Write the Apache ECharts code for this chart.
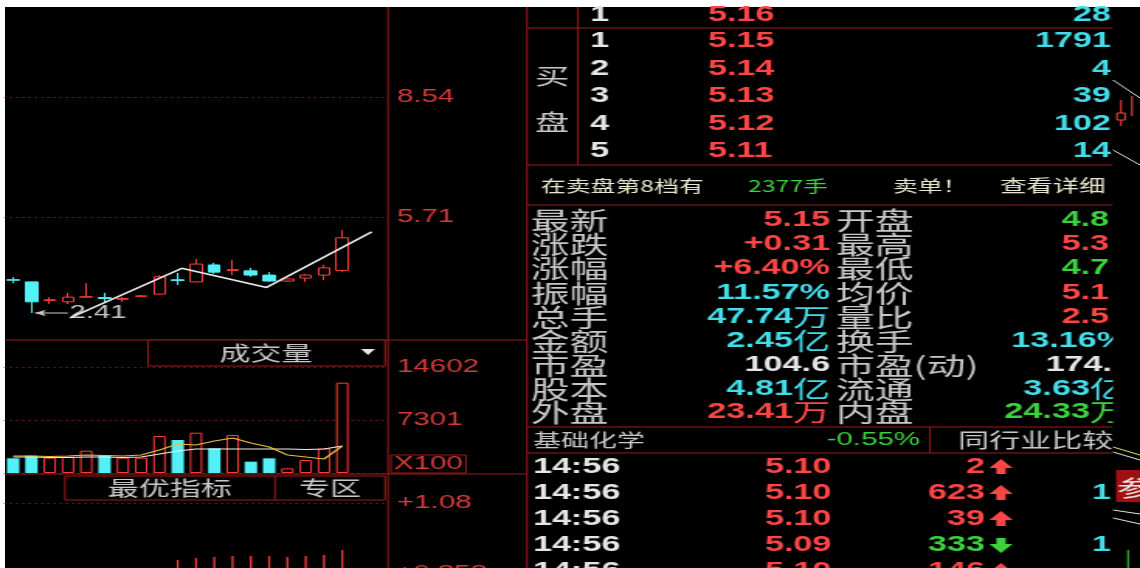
<!DOCTYPE html>
<html><head><meta charset="utf-8">
<script src="https://cdn.jsdelivr.net/npm/echarts@6/dist/echarts.min.js"></script>
<style>
html,body{margin:0;padding:0;background:#fff;overflow:hidden;width:1140px;height:568px;}
#bg{position:absolute;left:5px;top:7px;right:0;bottom:0;background:#000;}
#chart{position:absolute;left:0;top:0;width:735px;height:568px;transform:scaleX(1.55102);transform-origin:0 0;}
</style></head><body><div id="bg"></div><div id="chart"></div>
<script>
// ---------- data ----------
const categories = ['D1','D2','D3','D4','D5','D6','D7','D8','D9','D10','D11','D12','D13','D14','D15','D16','D17','D18','D19','',''];
// [open, close, low, high]
const candles = [
  [4.23,4.22,4.15,4.29],[4.18,3.71,3.446,4.18],[3.74,3.76,3.66,3.82],[3.71,3.82,3.66,3.92],
  [3.82,3.83,3.82,4.15],[3.81,3.79,3.68,3.92],[3.77,3.79,3.71,3.82],[3.84,3.85,3.83,3.87],
  [3.89,4.30,3.89,4.34],[4.23,4.21,4.11,4.39],[4.18,4.60,4.18,4.72],[4.58,4.41,4.37,4.63],
  [4.45,4.47,4.34,4.70],[4.44,4.34,4.30,4.51],[4.34,4.20,4.18,4.41],[4.20,4.25,4.18,4.25],
  [4.27,4.34,4.18,4.37],[4.34,4.51,4.22,4.58],[4.45,5.22,4.41,5.40]
];
const volumes = [2025,2383,2108,2245,3072,2480,2108,2108,5097,4546,5551,3402,5235,1561,2020,643,1791,3400,12440];
const volMaWhite = [2204,2204,2135,2135,2204,2204,2135,2204,2617,3030,3306,3306,3306,3306,3306,3306,3237,3306,3720];
const volMaYellow = [2342,2342,2273,2342,2480,2411,2342,2480,3168,3995,3857,4408,4821,4133,3582,2480,2204,1929,3720];
const trendLine = [[3.11,3.33],[9.22,4.50],[13.86,4.05],[19.61,5.36]];
const lowPoint = [1.195, 3.446];
const lowLabelEnd = [2.945, 3.446];
const lowLabel = '2.41';
const priceTicks = [5.71, 8.54];
const volMax = 14602, volStep = 7301;
const indTicks = [1.08];
const indCutLabel = '+0.858';
const indicatorBars = ['-','-','-','-','-','-','-','-','-',0.882,0.889,0.893,0.896,0.896,0.896,0.893,0.896,0.900,0.917];

const bookIdx = ['1','1','2','3','4','5'];
const bookPrice = ['5.16','5.15','5.14','5.13','5.12','5.11'];
const bookVol = ['28','1791','4','39','102','14'];
const statLabelsL = ['最新','涨跌','涨幅','振幅','总手','金额','市盈','股本','外盘'];
const statValuesL = [['5.15',''],['+0.31',''],['+6.40%',''],['11.57%',''],['47.74','万'],['2.45','亿'],['104.6',''],['4.81','亿'],['23.41','万']];
const statLabelsR = ['开盘','最高','最低','均价','量比','换手','市盈(动)','流通','内盘'];
const statValuesR = [['4.8',''],['5.3',''],['4.7',''],['5.1',''],['2.5',''],['13.16%',''],['174.',''],['3.63','亿'],['24.33','万']];
const tickTimes = ['14:56','14:56','14:56','14:56','14:56'];
const tickPrices = ['5.10','5.10','5.10','5.09','5.10'];
const tickVols = ['2','623','39','333','146'];
const tickDir = [1,1,1,-1,1];
const tickCount = ['','1','','1',''];

// ---------- layout helpers ----------
const S = 1140/735;
const X = v => v / S;
const RED = '#ff4646', CYAN = '#44dce8', GREEN = '#3cd23c', WHITE = '#e6e6e6', GRAY = '#c8c8c8', LINE = '#9c1c1c';
const statColL = [RED,RED,RED,CYAN,CYAN,CYAN,WHITE,CYAN,RED];
const statColR = [GREEN,RED,GREEN,RED,RED,CYAN,WHITE,CYAN,GREEN];
const tickColVol = tickDir.map(d => d > 0 ? RED : GREEN);
const DIG = 'bold 22px "Liberation Sans", Arial, sans-serif';
const CJK = '"Noto Sans CJK SC", sans-serif';

const G = [];
function line(x1,y1,x2,y2,color,z,dash){G.push({type:'line',z:z||5,shape:{x1:X(x1),y1:y1,x2:X(x2),y2:y2},style:{stroke:color||LINE,lineWidth:1,lineDash:dash||null}});}
function box(x1,y1,x2,y2){G.push({type:'rect',z:40,shape:{x:X(x1),y:y1,width:X(x2)-X(x1),height:y2-y1},style:{fill:'#000',stroke:LINE,lineWidth:1}});}
function txt(x,y,text,color,font,align,z){G.push({type:'text',z:z||60,x:X(x),y:y,style:{text:text,fill:color,font:font,textAlign:align||'left',align:align||'left',textVerticalAlign:'middle',verticalAlign:'middle'}});}
function rich(x,y,num,unit,color,align){
  G.push({type:'text',z:60,x:X(x),y:y,style:{text:'{n|'+num+'}'+(unit?'{u|'+unit+'}':''),textAlign:align,align:align,textVerticalAlign:'middle',verticalAlign:'middle',
    rich:{n:{fill:color,font:DIG},u:{fill:color,font:'24px '+CJK}}}});
}
function arrow(cx,cy,dir,color){
  const c = X(cx), h = 8*dir, s = 6*dir;
  G.push({type:'polygon',z:60,shape:{points:[[c-7.5,cy+1*dir],[c,cy-h],[c+7.5,cy+1*dir],[c+3,cy+1*dir],[c+3,cy+s+1*dir],[c-3,cy+s+1*dir],[c-3,cy+1*dir]]},style:{fill:color}});
}

// frame lines
line(388,7,388,568); line(527,7,527,568);
line(5,340,527,340); line(5,474,527,474);
line(527,28,1113,28); line(527,165,1113,165); line(527,205,1113,205); line(527,427,1113,427); line(527,453,1113,453);
line(578,7,578,165); line(930,427,930,453);
// boxes
box(148,340,385,366); txt(266,353,'成交量',GRAY,'20px '+CJK,'center');
G.push({type:'polygon',z:60,shape:{points:[[X(361),349],[X(375),349],[X(368),355]]},style:{fill:WHITE}});
box(391,455,466,473); txt(394,464,'X100','#d83a3a','19px "Liberation Sans", Arial','left');
box(65,476,385,500); line(275,476,275,500,LINE,41);
txt(170,488,'最优指标',GRAY,'20px '+CJK,'center'); txt(330,488,'专区',GRAY,'20px '+CJK,'center');
txt(396,573,indCutLabel,'#d83a3a','19px "Liberation Sans", Arial','left');

// order book
bookIdx.forEach((t,i)=>{ const y=[15,41,69,96,124,151][i];
  txt(590,y,t,WHITE,DIG); txt(708,y,bookPrice[i],RED,DIG); txt(1111,y,bookVol[i],CYAN,DIG,'right'); });
txt(535,76,'买',GRAY,'22px '+CJK); txt(535,122,'盘',GRAY,'22px '+CJK);
// info row
txt(541,186,'在卖盘第8档有','#e8e8d0','16px '+CJK); txt(748,186,'2377手',GREEN,'16px '+CJK);
txt(893,186,'卖单！','#e8e8d0','16px '+CJK); txt(1000,186,'查看详细','#e8e8d0','17px '+CJK);
// stats
const statY = [220,244,268,293,317,341,365,389,412];
statY.forEach((y,i)=>{
  txt(531,y,statLabelsL[i],GRAY,'25px '+CJK);
  rich(830,y,statValuesL[i][0],statValuesL[i][1],statColL[i],'right');
  txt(836,y,statLabelsR[i],GRAY,'25px '+CJK);
  const cut = (i===5||i===7||i===8);
  rich(cut?1127:(i===6?1112:1109),y,statValuesR[i][0],statValuesR[i][1],statColR[i],'right');
});
// industry row
txt(533,440,'基础化学',GRAY,'18px '+CJK); txt(920,440,'-0.55%',GREEN,'19px "Liberation Sans", Arial','right');
txt(958,440,'同行业比较',GRAY,'20px '+CJK);
// ticks
const tickY = [467,493,519,545,571];
tickY.forEach((y,i)=>{
  txt(533,y,tickTimes[i],WHITE,DIG); txt(765,y,tickPrices[i],RED,DIG);
  txt(985,y,tickVols[i],tickColVol[i],DIG,'right'); arrow(1001,y,tickDir[i],tickColVol[i]);
  if(tickCount[i]) txt(1111,y,tickCount[i],CYAN,DIG,'right');
});
// right strip mask + fragments of neighbouring window
G.push({type:'rect',z:70,shape:{x:X(1113),y:7,width:X(1140)-X(1113),height:561},style:{fill:'#000'}});
line(1113,80,1140,98,WHITE,80); line(1113,150,1140,165,WHITE,80);
line(1121,100,1121,126,RED,80); G.push({type:'rect',z:80,shape:{x:X(1117),y:113,width:X(8),height:7},style:{fill:'#000',stroke:RED}});
line(1132,96,1132,116,RED,80);
line(1113,447,1140,455,'#e8e060',80); line(1113,452,1140,460,WHITE,80);
G.push({type:'rect',z:80,shape:{x:X(1116),y:470,width:X(24),height:32},style:{fill:'#a01010'}});
txt(1117,488,'参',WHITE,'22px '+CJK,'left',85);
line(1113,510,1140,514,WHITE,80); line(1113,518,1140,524,WHITE,80); line(1128,550,1128,568,GREEN,80);

const axisLbl = {color:'#d83a3a',fontSize:19,fontFamily:'"Liberation Sans", Arial',margin:X(9)};
const dotted = {show:true,lineStyle:{color:'#a82a2a',type:[1,3],width:1}};
const hidX = (gi)=>({type:'category',gridIndex:gi,data:categories,boundaryGap:true,show:false});

const option = {
  backgroundColor:'transparent',
  animation:false,
  grid:[
    {left:X(4),top:7,width:X(384),height:333},
    {left:X(4),top:367,width:X(384),height:106},
    {left:X(4),top:503,width:X(384),height:65}
  ],
  xAxis:[hidX(0),hidX(1),{type:'value',gridIndex:0,min:-0.5,max:20.5,show:false},hidX(2)],
  yAxis:[
    {type:'value',gridIndex:0,position:'right',min:2.81,max:10.66,axisLine:{show:false},axisTick:{show:false,customValues:priceTicks},
     axisLabel:Object.assign({customValues:priceTicks,formatter:v=>v.toFixed(2)},axisLbl),splitLine:Object.assign({customValues:priceTicks},dotted)},
    {type:'value',gridIndex:1,position:'right',min:0,max:volMax,interval:volStep,axisLine:{show:false},axisTick:{show:false},
     axisLabel:Object.assign({formatter:v=>v===0?'':String(v)},axisLbl),splitLine:dotted},
    {type:'value',gridIndex:2,position:'right',min:0.8545,max:1.08,axisLine:{show:false},axisTick:{show:false,customValues:indTicks},
     axisLabel:Object.assign({customValues:indTicks,formatter:v=>'+'+String(v)},axisLbl),splitLine:Object.assign({customValues:indTicks},dotted)}
  ],
  series:[
    {type:'candlestick',xAxisIndex:0,yAxisIndex:0,data:candles,barWidth:'68%',
     itemStyle:{color:'#000',color0:'#54f0f8',borderColor:'#ff3c3c',borderColor0:'#54f0f8',borderWidth:1}},
    {type:'line',xAxisIndex:2,yAxisIndex:0,data:trendLine,symbol:'none',lineStyle:{color:'#ececec',width:1.6},z:5},
    {type:'line',xAxisIndex:2,yAxisIndex:0,symbol:'none',showSymbol:true,lineStyle:{color:GRAY,width:1.2},z:4,
     data:[{value:lowPoint,symbol:'arrow',symbolSize:[5,7],symbolRotate:90,itemStyle:{color:GRAY}},
           {value:lowLabelEnd,symbol:'circle',symbolSize:1,itemStyle:{color:GRAY},
            label:{show:true,position:'right',distance:1,formatter:lowLabel,color:GRAY,fontSize:19,fontFamily:'"Liberation Sans", Arial'}}]},
    {type:'bar',xAxisIndex:1,yAxisIndex:1,barWidth:'68%',
     data:volumes.map((v,i)=>{const up=candles[i][1]>=candles[i][0];return {value:v,itemStyle:up?{color:'#000',borderColor:'#ff3c3c',borderWidth:1}:{color:'#54f0f8'}};})},
    {type:'line',xAxisIndex:1,yAxisIndex:1,data:volMaWhite,symbol:'none',lineStyle:{color:'#f0f0f0',width:1.2}},
    {type:'line',xAxisIndex:1,yAxisIndex:1,data:volMaYellow,symbol:'none',lineStyle:{color:'#e8c040',width:1.2}},
    {type:'bar',xAxisIndex:3,yAxisIndex:2,data:indicatorBars,barWidth:1.3,itemStyle:{color:'#ff3c3c'}}
  ],
  graphic:G
};
const chart = echarts.init(document.getElementById('chart'));
chart.setOption(option);
</script></body></html>
